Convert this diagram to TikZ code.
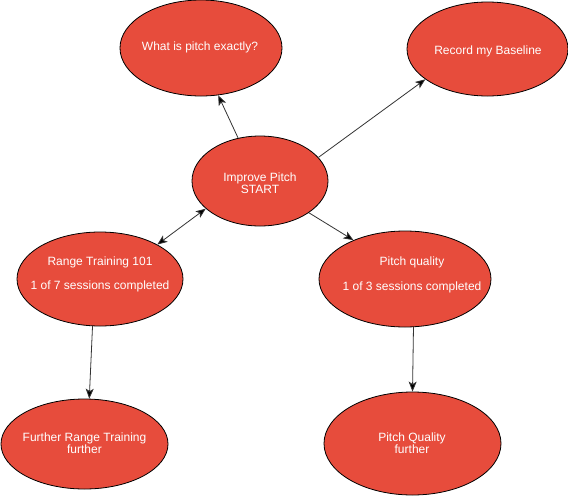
\documentclass[tikz,border=0pt]{standalone}
\usepackage{fontspec}
\setmainfont{Liberation Sans}
\usetikzlibrary{shapes.geometric,arrows.meta}
\definecolor{bubble}{RGB}{231,76,60}
\definecolor{edgegray}{RGB}{51,51,51}
\begin{document}
\begin{tikzpicture}[x=1pt,y=-1pt,
  bubble/.style={ellipse,draw=black,line width=0.8pt,fill=bubble,inner sep=0pt},
  lbl/.style={text=white,align=center,inner sep=0pt,font=\fontsize{12}{12.5}\selectfont},
  link/.style={draw=edgegray,line width=0.8pt,-{Stealth[length=10pt,width=8pt,inset=2.5pt,fill=black]}},
  dlink/.style={draw=edgegray,line width=0.8pt,{Stealth[length=10pt,width=8pt,inset=2.5pt,fill=black]}-{Stealth[length=10pt,width=8pt,inset=2.5pt,fill=black]}}]
\useasboundingbox (0,0) rectangle (568,496);
\fill[white] (0,0) rectangle (568,496);

\node[bubble,minimum width=162pt,minimum height=96pt] (what) at (201,48) {};
\node[lbl] (whatt) at (200,47) {What is pitch exactly?};

\node[bubble,minimum width=161pt,minimum height=94pt] (rec) at (487.5,49) {};
\node[lbl] (rect) at (488,51) {Record my Baseline};

\node[bubble,minimum width=136pt,minimum height=90pt] (start) at (260,181) {};
\node[lbl] (startt) at (260,183) {Improve Pitch\\START};

\node[bubble,minimum width=166pt,minimum height=94pt] (range) at (100,279) {};
\node[lbl] (ranget) at (100,274.5) {Range Training 101\\[12pt]1 of 7 sessions completed};

\node[bubble,minimum width=172pt,minimum height=96pt] (pq) at (405,279) {};
\node[lbl] (pqt) at (412,275) {Pitch quality\\[12pt]1 of 3 sessions completed};

\node[bubble,minimum width=167pt,minimum height=90pt] (fr) at (84.5,444) {};
\node[lbl] (frt) at (84.5,443) {Further Range Training\\further};

\node[bubble,minimum width=177pt,minimum height=103pt] (pqf) at (412.5,443.5) {};
\node[lbl] (pqft) at (412,443) {Pitch Quality\\further};

\draw[link] (start.117) -- (what.-70);
\draw[link] (start.22) -- (rec.206);
\draw[link] (start.-33) -- (pq.143);
\draw[dlink] (range.31) -- (start.207);
\draw[link] (range.-99.5) -- (fr.84);
\draw[link] (pq.-80.5) -- (pqf.90);
\end{tikzpicture}
\end{document}
